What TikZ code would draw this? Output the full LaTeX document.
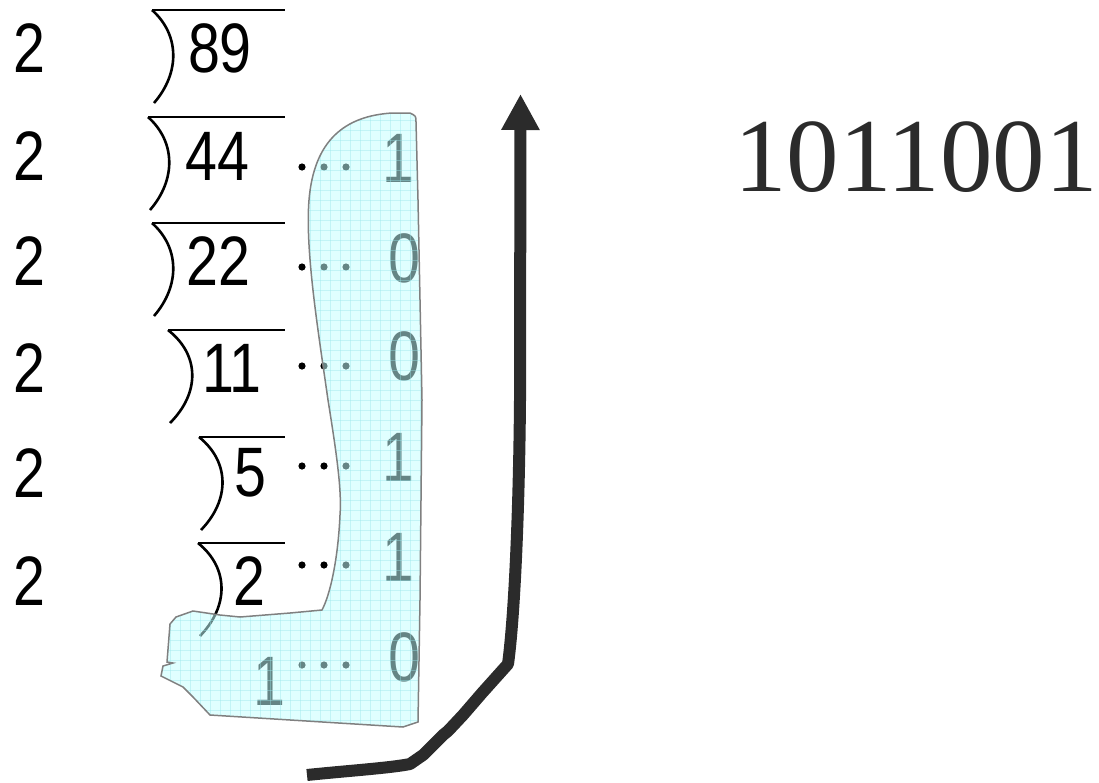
\documentclass[tikz,border=0pt]{standalone}
\usepackage{fontspec}
\setmainfont{Liberation Serif}
\newfontfamily\gothic{Liberation Sans}
\usetikzlibrary{arrows.meta}
\definecolor{ink}{RGB}{43,43,43}
\definecolor{sheet}{RGB}{195,255,255}
\definecolor{sheetrule}{RGB}{150,230,235}
\definecolor{rim}{RGB}{128,128,128}
% narrow gothic figures
\newcommand\cond[1]{\scalebox{0.82}[1]{\gothic\fontsize{70}{70}\selectfont #1}}
\begin{document}
\begin{tikzpicture}[x=1pt,y=-1pt,
  num/.style={inner sep=0pt, anchor=center},
  bracket/.style={line width=2.6pt, black},
  overbar/.style={line width=2pt, black},
  dotmark/.style={black},
  gridline/.style={sheetrule, line width=0.6pt, opacity=0.4},
  bigarrow/.style={ink, line width=12pt, line join=round,
    -{Triangle[length=36pt,width=36pt]}}]
\useasboundingbox (0,0) rectangle (1099,782);

% divisors
\foreach \y/\i in {48.5/1,156/2,261.5/3,368/4,473/5,581/6}
  \node[num] (d\i) at (29.3,\y) {\cond{2}};

% dividends
\node[num] (n1) at (220,48.5) {\cond{89}};
\node[num] (n2) at (217.5,156) {\cond{44}};
\node[num] (n3) at (218.5,261.5) {\cond{22}};
\node[num] (n4) at (232,368) {\cond{11}};
\node[num] (n5) at (250.5,473) {\cond{5}};
\node[num] (n6) at (249.5,581) {\cond{2}};
\node[num] (q) at (269.5,681) {\cond{1}};

% division brackets: left arc and bar
\foreach \a/\t/\b in {152/10/28, 148/117/28, 152/223/28, 168/330/32, 199/437/31, 198/543/31} {
  \draw[overbar] (\a,\t) -- (285,\t);
  \draw[bracket] (\a,\t) .. controls (\a+\b,\t+25) and (\a+\b,\t+63) .. (\a+2,\t+93);
}

% leader dots
\foreach \y in {167,267,366,466,565,665}
  \foreach \x in {302,324,346}
    \fill[dotmark] (\x,\y) circle (3.6);

% remainders
\node[num] (r1) at (398.6,158) {\cond{1}};
\node[num] (r2) at (404,258) {\cond{0}};
\node[num] (r3) at (404,356.5) {\cond{0}};
\node[num] (r4) at (398.6,457) {\cond{1}};
\node[num] (r5) at (398.6,557) {\cond{1}};
\node[num] (r6) at (404,657) {\cond{0}};

% highlighted remainder column
\path[save path=\sheetpath] (410,113) -- (392,113)
  .. controls (345,116) and (314,140) .. (309,200)
  .. controls (305,250) and (318,330) .. (328,400)
  .. controls (336,450) and (342,490) .. (340,515)
  .. controls (338,560) and (330,595) .. (322,610)
  -- (290,613) -- (240,617) -- (220,615) -- (193,611) -- (176,617)
  -- (170,624) -- (167,662) -- (173,663) -- (163,666) -- (161,676)
  -- (183,687) -- (193,697) -- (210,715) -- (403,727) -- (418,722)
  -- (420,600) -- (422,400) -- (418,200) -- (416,122)
  .. controls (416,116) .. cycle;
\fill[sheet, fill opacity=0.52, use path=\sheetpath];
\begin{scope}
  \clip[use path=\sheetpath];
  \foreach \x in {160,170,...,430}
    \draw[gridline] (\x,100) -- (\x,730);
  \foreach \y in {110,120,...,730}
    \draw[gridline] (150,\y) -- (430,\y);
\end{scope}
\draw[rim, line width=1.5pt, use path=\sheetpath];

% reading direction
\coordinate (start) at (307,775);
\coordinate (bend) at (410,764);
\coordinate (knee) at (482,693);
\coordinate (rise) at (508,664);
\coordinate (tip) at (520.5,94);
\draw[bigarrow] (start) .. controls (345,771) and (390,768) .. (bend)
  -- (423,755) -- (443,735) -- (448,731) -- (463,715) -- (knee) -- (rise)
  .. controls (514,620) and (519,520) .. (520,400) -- (tip);

% result
\node[num, ink] (result) at (916,157) {\fontsize{105}{105}\selectfont 1011001};
\end{tikzpicture}
\end{document}
